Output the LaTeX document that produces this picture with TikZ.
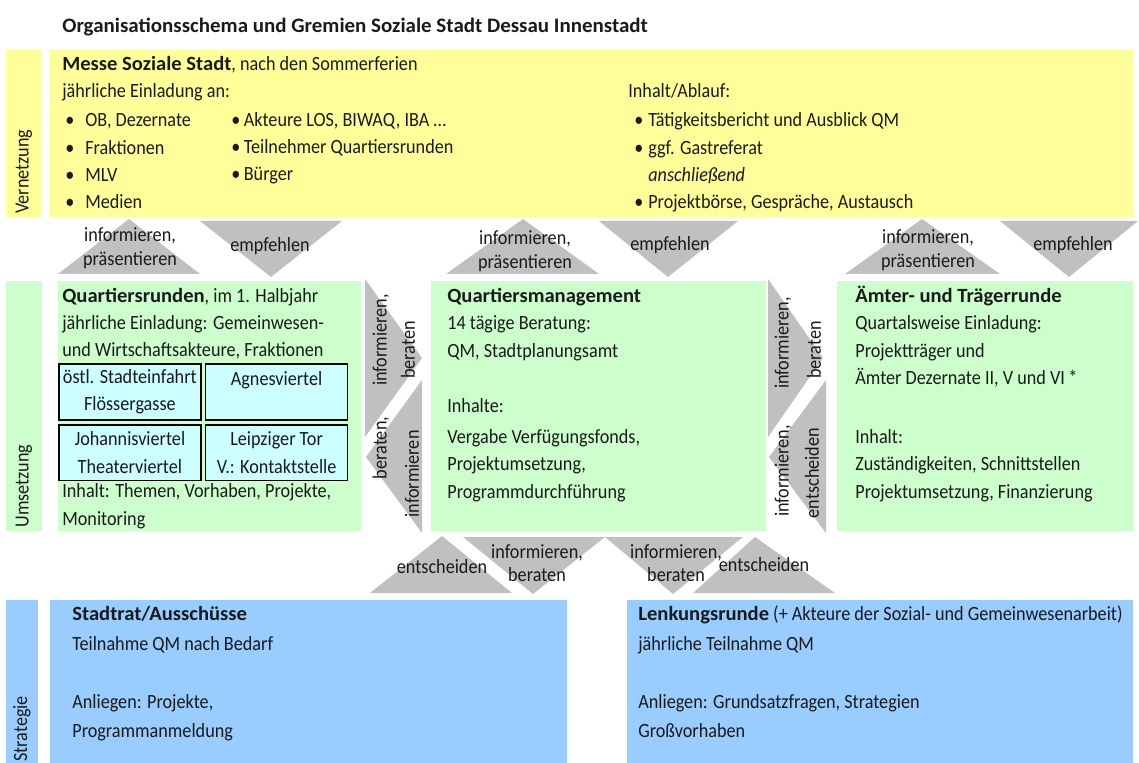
\documentclass[tikz,border=0pt]{standalone}
\usepackage{fontspec}
\setmainfont{Carlito}[FakeStretch=0.90,BoldFeatures={FakeStretch=1.02}]
\usetikzlibrary{positioning}
\definecolor{vernetzungsgelb}{HTML}{FFFF99}
\definecolor{umsetzungsgruen}{HTML}{CCFFCC}
\definecolor{strategieblau}{HTML}{99CCFF}
\definecolor{viertelblau}{HTML}{CCFFFF}
\definecolor{pfeilgrau}{HTML}{C0C0C0}
\definecolor{textgrau}{HTML}{1A1A1A}
\tikzset{
  schrift/.style={font=\fontsize{11.5}{15.6}\selectfont,text=textgrau},
  txt/.style={schrift,anchor=base west,align=left,inner sep=0pt},
  pfeiltxt/.style={schrift,font=\fontsize{11.5}{13.3}\selectfont,align=center,inner sep=0pt},
  seitentxt/.style={pfeiltxt,rotate=90},
  ebene/.style={schrift,rotate=90,anchor=west,inner sep=0pt},
  pfeil/.style={fill=pfeilgrau},
  viertel/.style={schrift,draw=black,line width=1pt,fill=viertelblau,
    minimum width=2.84cm,minimum height=1.12cm,align=center,inner sep=0pt}
}
\newcommand{\bul}[1]{\makebox[#1][l]{\textbullet}}
\begin{document}
\begin{tikzpicture}[x=0.02cm,y=-0.02cm]
  \useasboundingbox (0,0) rectangle (1139,763);
  \clip (0,0) rectangle (1139,763);
  % Ebenen
  \fill[vernetzungsgelb] (6,50) rectangle (42,217);
  \fill[vernetzungsgelb] (50,50) rectangle (1133,217);
  \fill[umsetzungsgruen] (6,281) rectangle (42,531);
  \fill[umsetzungsgruen] (58,281) rectangle (361,531);
  \fill[umsetzungsgruen] (431,281) rectangle (766,531);
  \fill[umsetzungsgruen] (837,281) rectangle (1133,531);
  \fill[strategieblau] (6,600) rectangle (38,770);
  \fill[strategieblau] (50,600) rectangle (567,770);
  \fill[strategieblau] (627,600) rectangle (1133,770);
  \node[ebene] (vernetzung) at (24,214) {Vernetzung};
  \node[ebene] (umsetzung) at (24,528) {Umsetzung};
  \node[ebene] (strategie) at (22,762) {Strategie};

  \node[txt,font=\fontsize{11.7}{15.6}\selectfont\bfseries] (titel) at (62,33)
    {Organisationsschema und Gremien Soziale Stadt Dessau Innenstadt};

  % Vernetzung (Basislinie = letzte Zeile)
  \node[txt] (messe) at (62,98) {\textbf{Messe Soziale Stadt}, nach den Sommerferien\\jährliche Einladung an:};
  \node[txt] (liste1) at (65,209) {\bul{0.4cm}OB, Dezernate\\\bul{0.4cm}Fraktionen\\\bul{0.4cm}MLV\\\bul{0.4cm}Medien};
  \node[txt] (liste2) at (231,181) {\bul{0.25cm}Akteure LOS, BIWAQ, IBA \dots\\\bul{0.25cm}Teilnehmer Quartiersrunden\\\bul{0.25cm}Bürger};
  \node[txt] (ablauf) at (628,98) {Inhalt/Ablauf:};
  \node[txt] (liste3) at (634,209) {\bul{0.28cm}Tätigkeitsbericht und Ausblick QM\\\bul{0.28cm}ggf. Gastreferat\\\hspace*{0.28cm}\textit{anschließend}\\\bul{0.28cm}Projektbörse, Gespräche, Austausch};

  % Umsetzung
  \node[txt] (quartiersrunden) at (62,357) {\textbf{Quartiersrunden}, im 1. Halbjahr\\jährliche Einladung: Gemeinwesen-\\und Wirtschaftsakteure, Fraktionen};
  \node[viertel,anchor=north west] (oestl) at (58,363) {östl. Stadteinfahrt\\Flössergasse};
  \node[viertel,right=0.06cm of oestl] (agnes) {Agnesviertel\\\mbox{}};
  \node[viertel,below=0.06cm of oestl] (johannis) {Johannisviertel\\Theaterviertel};
  \node[viertel,right=0.06cm of johannis] (leipzig) {Leipziger Tor\\V.: Kontaktstelle};
  \node[txt] (rundeninhalt) at (62,525) {Inhalt: Themen, Vorhaben, Projekte,\\Monitoring};
  \node[txt] (qm) at (447,498) {\textbf{Quartiersmanagement}\\14 tägige Beratung:\\QM, Stadtplanungsamt\\[0.55cm]Inhalte:\\[0.07cm]Vergabe Verfügungsfonds,\\Projektumsetzung,\\Programmdurchführung};
  \node[txt] (aemter) at (855,498) {\textbf{Ämter- und Trägerrunde}\\Quartalsweise Einladung:\\Projektträger und\\Ämter Dezernate II, V und VI\,*\\[0.62cm]Inhalt:\\Zuständigkeiten, Schnittstellen\\Projektumsetzung, Finanzierung};

  % Strategie
  \node[txt] (stadtrat) at (72,650) {\textbf{Stadtrat/Ausschüsse}\\[0.05cm]Teilnahme QM nach Bedarf};
  \node[txt] (stadtratanliegen) at (72,737) {Anliegen: Projekte,\\[0.03cm]Programmanmeldung};
  \node[txt] (lenkung) at (638,650) {\textbf{Lenkungsrunde} (+ Akteure der Sozial- und Gemeinwesenarbeit)\\[0.05cm]jährliche Teilnahme QM};
  \node[txt] (lenkunganliegen) at (638,737) {Anliegen: Grundsatzfragen, Strategien\\[0.03cm]Großvorhaben};

  % Pfeile Vernetzung / Umsetzung
  \fill[pfeil] (58,274) -- (129,219) -- (200,274) -- cycle;
  \fill[pfeil] (200,221) -- (342,221) -- (271,277) -- cycle;
  \fill[pfeil] (446,274) -- (523,219) -- (599,274) -- cycle;
  \fill[pfeil] (599,221) -- (738,221) -- (668,277) -- cycle;
  \fill[pfeil] (845,274) -- (922,219) -- (1000,274) -- cycle;
  \fill[pfeil] (1000,221) -- (1138,221) -- (1069,277) -- cycle;
  \node[pfeiltxt] (praes1) at (130,248) {informieren,\\präsentieren};
  \node[pfeiltxt] (empf1) at (270,246) {empfehlen};
  \node[pfeiltxt] (praes2) at (525,251) {informieren,\\präsentieren};
  \node[pfeiltxt] (empf2) at (670,245) {empfehlen};
  \node[pfeiltxt] (praes3) at (928,250) {informieren,\\präsentieren};
  \node[pfeiltxt] (empf3) at (1073,245) {empfehlen};

  % Pfeile seitlich
  \fill[pfeil] (365,279) -- (365,437) -- (422,358) -- cycle;
  \fill[pfeil] (422,380) -- (422,533) -- (366,457) -- cycle;
  \fill[pfeil] (768,279) -- (768,437) -- (823,358) -- cycle;
  \fill[pfeil] (826,380) -- (826,533) -- (769,457) -- cycle;
  \node[seitentxt] (info1) at (381,340) {informieren,};
  \node[seitentxt] (berat1) at (408,350) {beraten};
  \node[seitentxt] (berat2) at (381,448) {beraten,};
  \node[seitentxt] (info2) at (412,474) {informieren};
  \node[seitentxt] (info3) at (783,343) {informieren,};
  \node[seitentxt] (berat3) at (814,350) {beraten};
  \node[seitentxt] (info4) at (783,471) {informieren,};
  \node[seitentxt] (entsch1) at (812,473) {entscheiden};

  % Pfeile Umsetzung / Strategie
  \fill[pfeil] (370,593) -- (442,536) -- (512,593) -- cycle;
  \fill[pfeil] (463,537) -- (605,537) -- (533,594) -- cycle;
  \fill[pfeil] (605,537) -- (743,537) -- (673,594) -- cycle;
  \fill[pfeil] (693,593) -- (755,537) -- (835,593) -- cycle;
  \node[pfeiltxt] (entsch2) at (442,567) {entscheiden};
  \node[pfeiltxt] (berat4) at (537,563) {informieren,\\beraten};
  \node[pfeiltxt] (berat5) at (676,563) {informieren,\\beraten};
  \node[pfeiltxt] (entsch3) at (764,565) {entscheiden};
\end{tikzpicture}
\end{document}
